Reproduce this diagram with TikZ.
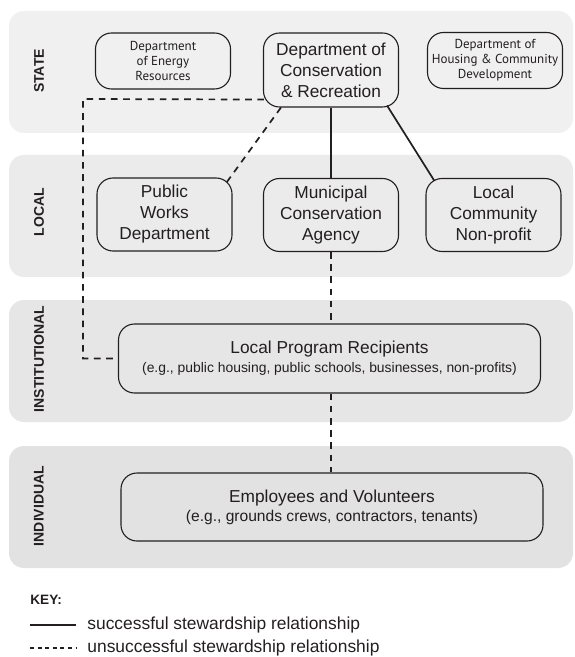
\documentclass[tikz,border=0pt]{standalone}
\usepackage{fontspec}
\setmainfont{Liberation Sans}
\newfontfamily\smallfont{PT Sans}
\definecolor{ink}{HTML}{231F20}
\definecolor{stateband}{HTML}{F0F0F0}
\definecolor{localband}{HTML}{EBEBEB}
\definecolor{instband}{HTML}{E6E6E6}
\definecolor{indivband}{HTML}{E2E2E2}
\begin{document}
\begin{tikzpicture}[x=0.5pt,y=-0.5pt,
    band/.style={rounded corners=7.5pt},
    tier/.style={rotate=90,inner sep=0pt,text=ink,font=\bfseries\fontsize{7}{8}\selectfont},
    agency/.style={draw=ink,line width=0.55pt,rounded corners=8pt,align=center,inner sep=0pt,
      text=ink,minimum width=67.5pt,minimum height=36.5pt,font=\fontsize{8.65}{10.5}\selectfont},
    minor/.style={agency,minimum height=28pt,font=\smallfont\fontsize{6.5}{7.5}\selectfont},
    wide/.style={agency,minimum width=211pt,minimum height=34.5pt,font=\fontsize{8.65}{9.5}\selectfont},
    link/.style={draw=ink,line width=0.85pt},
    weak/.style={link,dash pattern=on 3.3pt off 2.8pt},
    keytext/.style={anchor=west,inner sep=0pt,text=ink,font=\fontsize{8.7}{10}\selectfont}]
  \useasboundingbox (0,0) rectangle (574,657);
  \fill[band,stateband] (9,11) rectangle (573,133);
  \fill[band,localband] (9,155) rectangle (573,277);
  \fill[band,instband] (9,300) rectangle (573,422);
  \fill[band,indivband] (9,446) rectangle (573,568);
  \draw
    (39,71) node[tier] (state) {STATE}
    (39,212) node[tier] (local) {LOCAL}
    (39,359) node[tier] (inst) {INSTITUTIONAL}
    (39,506) node[tier] (indiv) {INDIVIDUAL}
    (163,61) node[minor] (der) {Department\\of Energy\\Resources}
    (331,70) node[agency,minimum height=37pt] (dcr) {Department of\\Conservation\\\& Recreation}
    (495,60.5) node[minor] (dhcd) {Department of\\Housing \& Community\\Development}
    (164.5,214.5) node[agency] (pwd) {Public\\Works\\Department}
    (331,215) node[agency] (mca) {Municipal\\Conservation\\Agency}
    (493.5,215) node[agency] (lcn) {Local\\Community\\Non-profit}
    (329.5,358.5) node[wide] (lpr) {Local Program Recipients\\{\fontsize{6.95}{9.5}\selectfont (e.g., public housing, public schools, businesses, non-profits)}}
    (332,507) node[wide,minimum height=34pt] (emp) {Employees and Volunteers\\{\fontsize{7.8}{9.5}\selectfont (e.g., grounds crews, contractors, tenants)}};
  \coordinate (bend) at (83,99);
  \begin{scope}[link]
    \draw (dcr) to (mca);
    \draw ([shift={(-12,-2)}]dcr.south east) to ([shift={(9,3)}]lcn.north west);
  \end{scope}
  \begin{scope}[weak]
    \draw ([shift={(18,0)}]dcr.south west) to ([shift={(-6,5)}]pwd.north east);
    \draw ([shift={(1,-8)}]dcr.south west) -- (bend) |- (lpr.west);
    \draw (mca.south) to (mca.south |- lpr.north);
    \draw (mca.south |- lpr.south) to (mca.south |- emp.north);
  \end{scope}
  \node[anchor=west,inner sep=0pt,text=ink,font=\bfseries\fontsize{6.8}{8}\selectfont] (key) at (30,600) {KEY:};
  \node[keytext] (good) at (87,625) {successful stewardship relationship};
  \node[keytext] (poor) at (87,648) {unsuccessful stewardship relationship};
  \coordinate (goodstart) at (30,625);
  \coordinate (goodend) at (76,625);
  \coordinate (poorstart) at (30,648);
  \coordinate (poorend) at (76,648);
  \draw[link] (goodstart) -- (goodend);
  \draw[link,line width=0.6pt,dash pattern=on 2pt off 1.8pt] (poorstart) -- (poorend);
\end{tikzpicture}
\end{document}
